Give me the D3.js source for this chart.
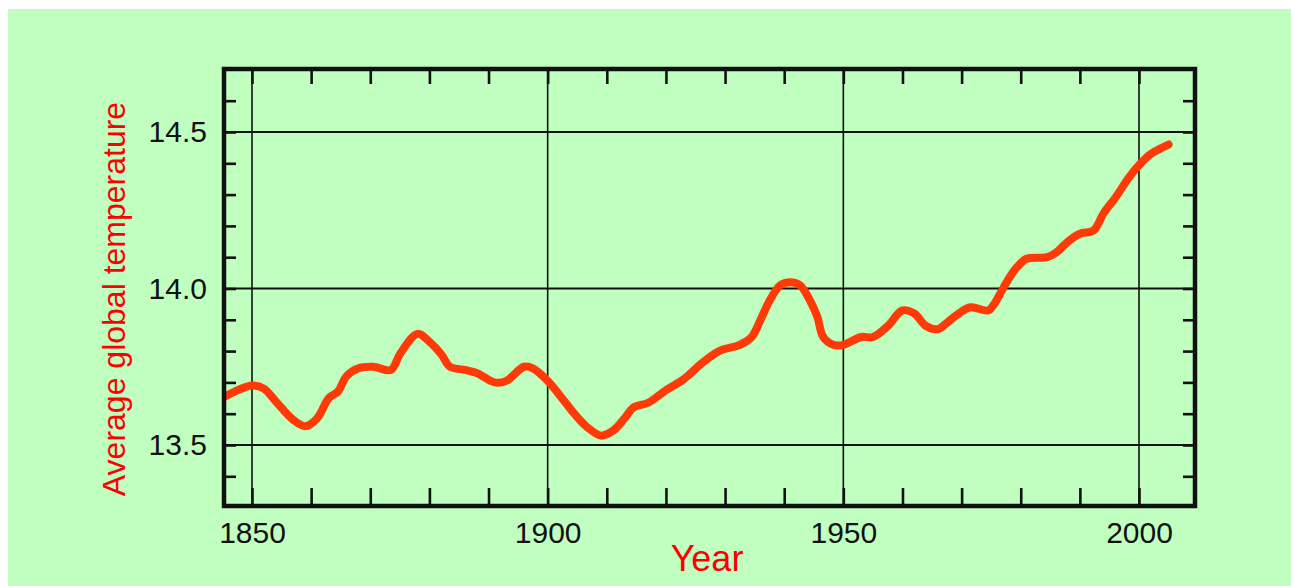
<!DOCTYPE html>
<html>
<head>
<meta charset="utf-8">
<script src="https://cdn.jsdelivr.net/npm/d3@7"></script>
<style>
  html, body { margin: 0; padding: 0; background: #ffffff; }
  svg { display: block; }
</style>
</head>
<body>
<svg id="chart" width="1291" height="586"></svg>
<script>
// ---- data ----
const years = [1845, 1847, 1850, 1852, 1854, 1857, 1859, 1861, 1863, 1864.5, 1866, 1868, 1870.5,
  1873.5, 1875, 1878, 1880, 1882, 1883.5, 1886, 1888, 1891, 1893, 1896, 1897.5, 1900, 1902,
  1904.5, 1906.5, 1909, 1911, 1913, 1914.5, 1917, 1920, 1923, 1926, 1929, 1932.5, 1934.5,
  1936, 1937.5, 1939.3, 1941, 1942.7, 1944.4, 1945.6, 1946.6, 1948.3, 1950, 1953, 1955,
  1957.5, 1960, 1962, 1964, 1966, 1967.5, 1969.5, 1971.5, 1974.5, 1975.5, 1977, 1979, 1981,
  1984.5, 1986, 1988, 1990, 1992.3, 1994, 1996, 1998.5, 2000.3, 2002, 2005];
const temps = [13.65, 13.67, 13.69, 13.68, 13.64, 13.58, 13.56, 13.585, 13.65, 13.67, 13.72, 13.745, 13.75,
  13.74, 13.79, 13.855, 13.83, 13.79, 13.75, 13.74, 13.73, 13.70, 13.705, 13.75, 13.745, 13.705, 13.66,
  13.60, 13.56, 13.53, 13.545, 13.585, 13.62, 13.635, 13.675, 13.71, 13.76, 13.80, 13.82, 13.845,
  13.90, 13.96, 14.01, 14.02, 14.01, 13.96, 13.91, 13.845, 13.82, 13.82, 13.845, 13.845,
  13.88, 13.93, 13.92, 13.88, 13.87, 13.89, 13.92, 13.94, 13.93, 13.95, 14.00, 14.06, 14.095,
  14.10, 14.115, 14.15, 14.175, 14.185, 14.24, 14.29, 14.36, 14.40, 14.43, 14.46];
const xMinorTicks = [1850, 1860, 1870, 1880, 1890, 1900, 1910, 1920, 1930, 1940, 1950, 1960, 1970, 1980, 1990, 2000];
const xMajorTicks = [1850, 1900, 1950, 2000];
const yMinorTicks = [13.4, 13.5, 13.6, 13.7, 13.8, 13.9, 14.0, 14.1, 14.2, 14.3, 14.4, 14.5, 14.6];
const yMajorTicks = [13.5, 14.0, 14.5];
const xTitle = "Year";
const yTitle = "Average global temperature";

// ---- layout ----
const W = 1291, H = 586;
const frame = { left: 224, right: 1195, top: 69, bottom: 506 };
const FONT = "'Liberation Sans', Arial, Helvetica, sans-serif";
const INK = "#111111";

const svg = d3.select("#chart");

// background
svg.append("rect").attr("x", 0).attr("y", 0).attr("width", W).attr("height", H).attr("fill", "#ffffff");
svg.append("rect").attr("x", 8).attr("y", 9).attr("width", W - 8).attr("height", H - 9).attr("fill", "#c0ffc0");

const x = d3.scaleLinear().domain([1850, 2000]).range([252, 1139]);
const y = d3.scaleLinear().domain([13.5, 14.5]).range([445, 132]);

// grid lines
const grid = svg.append("g").attr("stroke", INK).attr("stroke-width", 1.6);
grid.selectAll("line.v").data(xMajorTicks).join("line")
  .attr("class", "v")
  .attr("x1", d => x(d)).attr("x2", d => x(d))
  .attr("y1", frame.top).attr("y2", frame.bottom);
grid.selectAll("line.h").data(yMajorTicks).join("line")
  .attr("class", "h")
  .attr("x1", frame.left).attr("x2", frame.right)
  .attr("y1", d => y(d)).attr("y2", d => y(d))
  .attr("stroke-width", 2);

// axes (inward ticks)
function styleAxis(g, fontSize) {
  g.select(".domain").remove();
  g.selectAll(".tick line").attr("stroke", INK).attr("stroke-width", 2.6);
  g.selectAll(".tick text").attr("fill", INK).attr("font-family", FONT).attr("font-size", fontSize);
}

const bottomAxis = d3.axisBottom(x).tickValues(xMinorTicks).tickSize(-18).tickPadding(16)
  .tickFormat(d => xMajorTicks.includes(d) ? String(d) : "");
svg.append("g").attr("transform", `translate(0,${frame.bottom})`).call(bottomAxis)
  .call(g => styleAxis(g, 30));

const topAxis = d3.axisTop(x).tickValues(xMinorTicks).tickSize(-15).tickFormat("");
svg.append("g").attr("transform", `translate(0,${frame.top})`).call(topAxis)
  .call(g => styleAxis(g, 30));

const leftAxis = d3.axisLeft(y).tickValues(yMinorTicks).tickSize(-12).tickPadding(17)
  .tickFormat(d => yMajorTicks.some(m => Math.abs(m - d) < 1e-9) ? d3.format(".1f")(d) : "");
svg.append("g").attr("transform", `translate(${frame.left},0)`).call(leftAxis)
  .call(g => styleAxis(g, 30));

const rightAxis = d3.axisRight(y).tickValues(yMinorTicks).tickSize(-12).tickFormat("");
svg.append("g").attr("transform", `translate(${frame.right},0)`).call(rightAxis)
  .call(g => styleAxis(g, 30));

// clip for the curve
svg.append("clipPath").attr("id", "plotclip").append("rect")
  .attr("x", frame.left).attr("y", frame.top)
  .attr("width", frame.right - frame.left).attr("height", frame.bottom - frame.top);

// temperature curve
const pts = years.map((yr, i) => ({ yr, t: temps[i] }));
const line = d3.line().x(d => x(d.yr)).y(d => y(d.t)).curve(d3.curveCatmullRom.alpha(0.5));
svg.append("path").datum(pts)
  .attr("clip-path", "url(#plotclip)")
  .attr("d", line)
  .attr("fill", "none")
  .attr("stroke", "#ff3a08")
  .attr("stroke-width", 8)
  .attr("stroke-linecap", "round")
  .attr("stroke-linejoin", "round");

// frame
svg.append("rect")
  .attr("x", frame.left).attr("y", frame.top)
  .attr("width", frame.right - frame.left).attr("height", frame.bottom - frame.top)
  .attr("fill", "none").attr("stroke", INK).attr("stroke-width", 4.5);

// titles
svg.append("text")
  .attr("x", 707).attr("y", 571)
  .attr("text-anchor", "middle")
  .attr("font-family", FONT).attr("font-size", 36)
  .attr("fill", "#ff0000")
  .text(xTitle);

svg.append("text")
  .attr("transform", "translate(125,299) rotate(-90)")
  .attr("text-anchor", "middle")
  .attr("font-family", FONT).attr("font-size", 32)
  .attr("fill", "#ff0000")
  .text(yTitle);
</script>
</body>
</html>
